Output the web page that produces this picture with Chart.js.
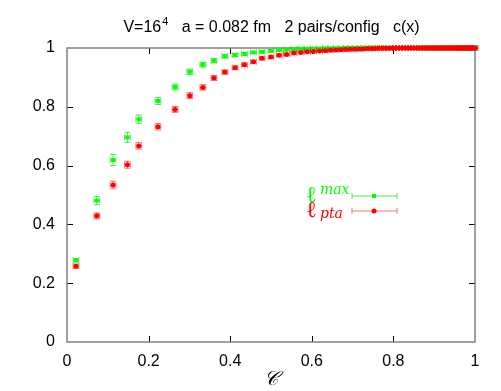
<!DOCTYPE html>
<html lang="en">
<head>
<meta charset="UTF-8">
<title>c(x)</title>
<script src="https://cdn.jsdelivr.net/npm/chart.js"></script>
<style>
  html, body { margin: 0; padding: 0; background: #fff; }
</style>
</head>
<body>
<canvas id="myChart" width="501" height="391"></canvas>
<script>
// C values (shared by both series)
const cValues = [
  0.022, 0.073, 0.113, 0.148, 0.176, 0.223, 0.265, 0.301, 0.333, 0.360,
  0.387, 0.412, 0.435, 0.457, 0.478, 0.500, 0.520, 0.538, 0.556, 0.573,
  0.589, 0.604, 0.619, 0.633, 0.646, 0.659, 0.671, 0.683, 0.694, 0.705,
  0.716, 0.726, 0.736, 0.746, 0.755, 0.764, 0.773, 0.782, 0.790, 0.798,
  0.806, 0.814, 0.822, 0.829, 0.836, 0.843, 0.850, 0.857, 0.864, 0.870,
  0.876, 0.882, 0.888, 0.894, 0.900, 0.906, 0.911, 0.916, 0.921, 0.926,
  0.931, 0.936, 0.941, 0.946, 0.950, 0.955, 0.959, 0.963, 0.967, 0.971,
  0.975, 0.979, 0.983, 0.987, 0.990, 0.993, 0.996, 1.000
];
// l_max (green)
const lmaxValues = [
  0.278, 0.481, 0.619, 0.696, 0.758, 0.820, 0.867, 0.919, 0.943, 0.957,
  0.972, 0.976, 0.980, 0.985, 0.987, 0.990, 0.993, 0.994, 0.996, 0.997,
  0.997, 0.998, 0.998, 0.999, 0.999, 0.999, 0.999, 1.000, 1.000, 1.000,
  1.000, 1.000, 1.000, 1.000, 1.000, 1.000, 1.000, 1.000, 1.000, 1.000,
  1.000, 1.000, 1.000, 1.000, 1.000, 1.000, 1.000, 1.000, 1.000, 1.000,
  1.000, 1.000, 1.000, 1.000, 1.000, 1.000, 1.000, 1.000, 1.000, 1.000,
  1.000, 1.000, 1.000, 1.000, 1.000, 1.000, 1.000, 1.000, 1.000, 1.000,
  1.000, 1.000, 1.000, 1.000, 1.000, 1.000, 1.000, 1.000
];
const lmaxErrors = [
  0.006, 0.014, 0.019, 0.017, 0.014, 0.012, 0.010, 0.009, 0.008, 0.007,
  0.006, 0.005, 0.005, 0.004, 0.004, 0.004, 0.003, 0.003, 0.003, 0.002,
  0.002, 0.002, 0.002, 0.002, 0.002, 0.002, 0.002, 0.002, 0.002, 0.002,
  0.002, 0.002, 0.002, 0.002, 0.002, 0.002, 0.002, 0.002, 0.002, 0.002,
  0.002, 0.002, 0.002, 0.002, 0.002, 0.002, 0.002, 0.002, 0.002, 0.002,
  0.002, 0.002, 0.002, 0.002, 0.002, 0.002, 0.002, 0.002, 0.002, 0.002,
  0.002, 0.002, 0.002, 0.002, 0.002, 0.002, 0.002, 0.002, 0.002, 0.002,
  0.002, 0.002, 0.002, 0.002, 0.002, 0.002, 0.002, 0.002
];
// l_pta (red)
const lptaValues = [
  0.258, 0.429, 0.534, 0.603, 0.667, 0.732, 0.791, 0.838, 0.866, 0.898,
  0.918, 0.933, 0.943, 0.953, 0.965, 0.969, 0.975, 0.978, 0.983, 0.985,
  0.987, 0.988, 0.990, 0.991, 0.992, 0.993, 0.994, 0.995, 0.996, 0.996,
  0.997, 0.997, 0.998, 0.998, 0.998, 0.999, 0.999, 0.999, 0.999, 1.000,
  1.000, 1.000, 1.000, 1.000, 1.000, 1.000, 1.000, 1.000, 1.000, 1.000,
  1.000, 1.000, 1.000, 1.000, 1.000, 1.000, 1.000, 1.000, 1.000, 1.000,
  1.000, 1.000, 1.000, 1.000, 1.000, 1.000, 1.000, 1.000, 1.000, 1.000,
  1.000, 1.000, 1.000, 1.000, 1.000, 1.000, 1.000, 1.000
];
const lptaErrors = [
  0.007, 0.010, 0.013, 0.012, 0.011, 0.011, 0.010, 0.010, 0.009, 0.008,
  0.007, 0.006, 0.006, 0.005, 0.005, 0.004, 0.004, 0.004, 0.003, 0.002,
  0.002, 0.002, 0.002, 0.002, 0.002, 0.002, 0.002, 0.002, 0.002, 0.002,
  0.002, 0.002, 0.002, 0.002, 0.002, 0.002, 0.002, 0.002, 0.002, 0.002,
  0.002, 0.002, 0.002, 0.002, 0.002, 0.002, 0.002, 0.002, 0.002, 0.002,
  0.002, 0.002, 0.002, 0.002, 0.002, 0.002, 0.002, 0.002, 0.002, 0.002,
  0.002, 0.002, 0.002, 0.002, 0.002, 0.002, 0.002, 0.002, 0.002, 0.002,
  0.002, 0.002, 0.002, 0.002, 0.002, 0.002, 0.002, 0.002
];
const cError = 0.007;
const tickValues = [0.2, 0.4, 0.6, 0.8];

// title pieces: base, superscript, rest
const titleParts = ['V=16', '4', '   a = 0.082 fm   2 pairs/config   c(x)'];

const series = [
  { label: 'max', values: lmaxValues, errors: lmaxErrors, color: '#00ff00', bar: 'rgba(0,230,0,0.7)', style: 'rect', radius: 2.8 },
  { label: 'pta', values: lptaValues, errors: lptaErrors, color: '#ff0000', bar: 'rgba(255,0,0,0.55)', style: 'circle', radius: 2.5 }
];

// frame, inward ticks and error bars
const gnuplotLook = {
  id: 'gnuplotLook',
  beforeDatasetsDraw(chart) {
    const { ctx, chartArea: a, scales: { x, y } } = chart;
    ctx.save();
    ctx.strokeStyle = '#000';
    ctx.lineWidth = 1;
    ctx.beginPath();
    tickValues.forEach(v => {
      const px = Math.round(x.getPixelForValue(v)) + 0.5;
      ctx.moveTo(px, a.bottom); ctx.lineTo(px, a.bottom - 6);
      ctx.moveTo(px, a.top); ctx.lineTo(px, a.top + 6);
      const py = Math.round(y.getPixelForValue(v)) + 0.5;
      ctx.moveTo(a.left, py); ctx.lineTo(a.left + 6, py);
      ctx.moveTo(a.right, py); ctx.lineTo(a.right - 6, py);
    });
    ctx.stroke();
    ctx.strokeStyle = '#808080';
    ctx.lineWidth = 1.5;
    ctx.strokeRect(a.left, a.top, a.right - a.left, a.bottom - a.top);

    const cap = 3;
    series.forEach(s => {
      ctx.strokeStyle = s.bar;
      ctx.lineWidth = 1;
      ctx.beginPath();
      cValues.forEach((c, i) => {
        const px = x.getPixelForValue(c);
        const py = y.getPixelForValue(s.values[i]);
        const x0 = x.getPixelForValue(c - cError);
        const x1 = x.getPixelForValue(c + cError);
        const y0 = y.getPixelForValue(s.values[i] - s.errors[i]);
        const y1 = y.getPixelForValue(s.values[i] + s.errors[i]);
        ctx.moveTo(x0, py); ctx.lineTo(x1, py);
        ctx.moveTo(x0, py - cap); ctx.lineTo(x0, py + cap);
        ctx.moveTo(x1, py - cap); ctx.lineTo(x1, py + cap);
        ctx.moveTo(px, y0); ctx.lineTo(px, y1);
        ctx.moveTo(px - cap, y0); ctx.lineTo(px + cap, y0);
        ctx.moveTo(px - cap, y1); ctx.lineTo(px + cap, y1);
      });
      ctx.stroke();
    });
    ctx.restore();
  },
  afterDraw(chart) {
    const { ctx, chartArea: a } = chart;
    ctx.save();
    ctx.fillStyle = '#000';
    ctx.textBaseline = 'alphabetic';
    ctx.textAlign = 'left';
    // title with superscript
    const mainFont = '16px "Liberation Sans", Arial, sans-serif';
    const supFont = '11px "Liberation Sans", Arial, sans-serif';
    ctx.font = mainFont;
    const w0 = ctx.measureText(titleParts[0]).width;
    const w2 = ctx.measureText(titleParts[2]).width;
    ctx.font = supFont;
    const w1 = ctx.measureText(titleParts[1]).width;
    let tx = (a.left + a.right) / 2 - (w0 + w1 + w2) / 2;
    ctx.font = mainFont;
    ctx.fillText(titleParts[0], tx, 32);
    ctx.font = supFont;
    ctx.fillText(titleParts[1], tx + w0 + 1, 25);
    ctx.font = mainFont;
    ctx.fillText(titleParts[2], tx + w0 + w1 + 1, 32);

    ctx.textAlign = 'center';
    ctx.textBaseline = 'middle';
    ctx.font = 'italic 20px "DejaVu Serif", serif';
    ctx.fillText('\u{1D49E}', (a.left + a.right) / 2, 380);

    // legend
    const rows = [{ s: series[0], y: 196 }, { s: series[1], y: 211 }];
    rows.forEach(r => {
      ctx.fillStyle = r.s.color;
      ctx.textAlign = 'left';
      ctx.textBaseline = 'alphabetic';
      ctx.font = '23px "DejaVu Serif", serif';
      ctx.fillText('\u2113', 306, r.y + 6);
      ctx.font = 'italic 14px "DejaVu Serif", serif';
      ctx.fillText(r.s.label, 320, r.y + (r.s.label === 'max' ? -2 : 7));
      ctx.strokeStyle = r.s.bar;
      ctx.lineWidth = 1;
      ctx.beginPath();
      ctx.moveTo(352, r.y); ctx.lineTo(397, r.y);
      ctx.moveTo(352, r.y - 3); ctx.lineTo(352, r.y + 3);
      ctx.moveTo(397, r.y - 3); ctx.lineTo(397, r.y + 3);
      ctx.stroke();
      ctx.fillStyle = r.s.color;
      ctx.beginPath();
      if (r.s.style === 'rect') {
        ctx.rect(372, r.y - 2, 4, 4);
      } else {
        ctx.arc(374, r.y, 2.5, 0, Math.PI * 2);
      }
      ctx.fill();
    });
    ctx.restore();
  }
};

const ctx = document.getElementById('myChart').getContext('2d');
new Chart(ctx, {
  type: 'scatter',
  data: {
    datasets: series.map(s => ({
      label: s.label,
      data: cValues.map((c, i) => ({ x: c, y: s.values[i] })),
      pointStyle: s.style,
      pointRadius: s.radius,
      backgroundColor: s.color,
      borderColor: s.color,
      borderWidth: 0,
      clip: false
    })).reverse()
  },
  options: {
    responsive: false,
    animation: false,
    devicePixelRatio: 1,
    layout: { padding: { top: 48, right: 26, left: 0, bottom: 0 } },
    plugins: {
      legend: { display: false },
      title: { display: false },
      tooltip: { enabled: false }
    },
    scales: {
      x: {
        type: 'linear', min: 0, max: 1,
        grid: { display: false, drawTicks: false },
        border: { display: false },
        ticks: {
          stepSize: 0.2, padding: 10, color: '#000',
          font: { family: 'Liberation Sans', size: 16 },
          callback: v => String(+v.toFixed(1))
        },
        afterFit: s => { s.height = 49; }
      },
      y: {
        type: 'linear', min: 0, max: 1,
        grid: { display: false, drawTicks: false },
        border: { display: false },
        ticks: {
          stepSize: 0.2, padding: 12, color: '#000',
          font: { family: 'Liberation Sans', size: 16 },
          callback: v => String(+v.toFixed(1))
        },
        afterFit: s => { s.width = 67; }
      }
    }
  },
  plugins: [gnuplotLook]
});
</script>
</body>
</html>
